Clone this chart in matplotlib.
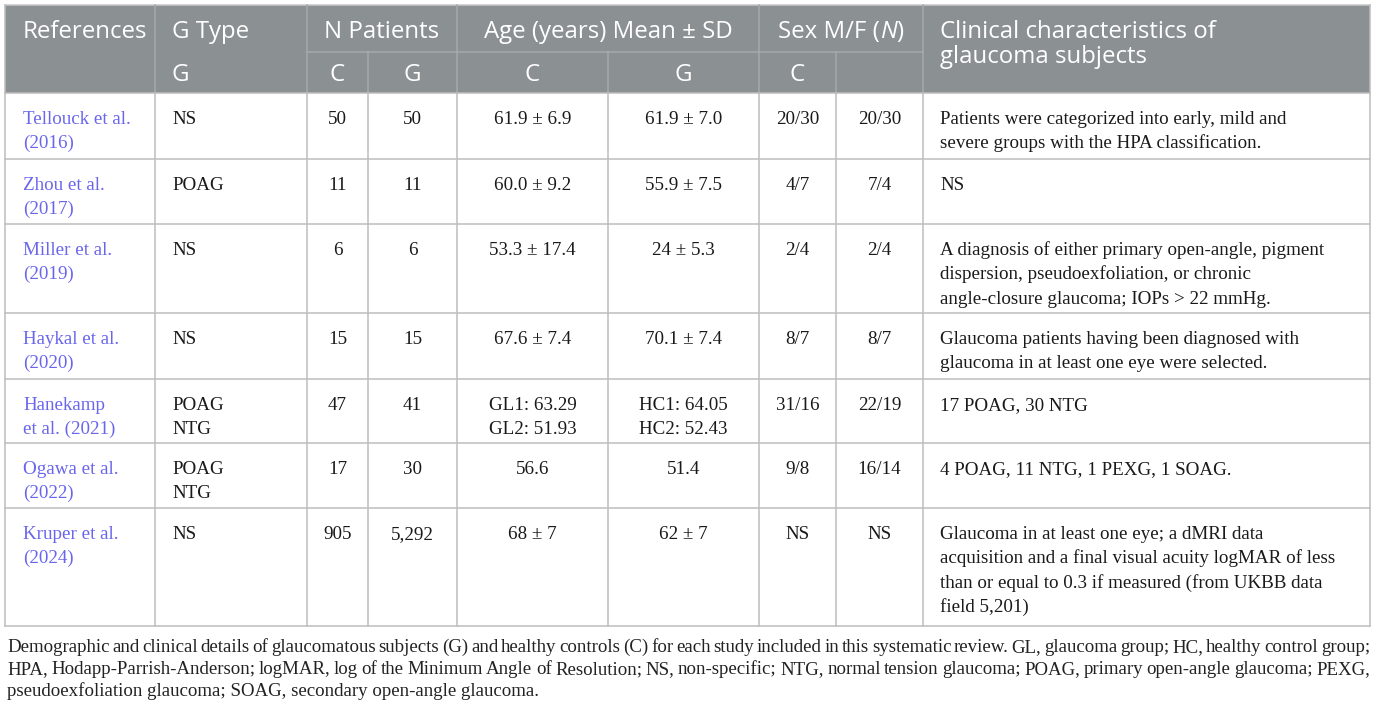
import matplotlib
matplotlib.use("Agg")
import matplotlib.pyplot as plt
from matplotlib.patches import Rectangle

# ---------------- data ----------------
header_top = ["References", "G Type", "N Patients", "Age (years) Mean \u00b1 SD", "Sex M/F (N)",
              "Clinical characteristics of\nglaucoma subjects"]
header_sub = ["", "G", "C", "G", "C", "G", "C", ""]

references = ["Tellouck et al.\n(2016)", "Zhou et al.\n(2017)", "Miller et al.\n(2019)",
              "Haykal et al.\n(2020)", "Hanekamp\net al. (2021)", "Ogawa et al.\n(2022)",
              "Kruper et al.\n(2024)"]
g_type = ["NS", "POAG", "NS", "NS", "POAG\nNTG", "POAG\nNTG", "NS"]
n_c = ["50", "11", "6", "15", "47", "17", "905"]
n_g = ["50", "11", "6", "15", "41", "30", "5,292"]
age_c = ["61.9 \u00b1 6.9", "60.0 \u00b1 9.2", "53.3 \u00b1 17.4", "67.6 \u00b1 7.4",
         "GL1: 63.29\nGL2: 51.93", "56.6", "68 \u00b1 7"]
age_g = ["61.9 \u00b1 7.0", "55.9 \u00b1 7.5", "24 \u00b1 5.3", "70.1 \u00b1 7.4",
         "HC1: 64.05\nHC2: 52.43", "51.4", "62 \u00b1 7"]
sex_c = ["20/30", "4/7", "2/4", "8/7", "31/16", "9/8", "NS"]
sex_g = ["20/30", "7/4", "2/4", "8/7", "22/19", "16/14", "NS"]
clinical = [
    "Patients were categorized into early, mild and\nsevere groups with the HPA classification.",
    "NS",
    "A diagnosis of either primary open-angle, pigment\ndispersion, pseudoexfoliation, or chronic\nangle-closure glaucoma; IOPs > 22 mmHg.",
    "Glaucoma patients having been diagnosed with\nglaucoma in at least one eye were selected.",
    "17 POAG, 30 NTG",
    "4 POAG, 11 NTG, 1 PEXG, 1 SOAG.",
    "Glaucoma in at least one eye; a dMRI data\nacquisition and a final visual acuity logMAR of less\nthan or equal to 0.3 if measured (from UKBB data\nfield 5,201)",
]
caption_lines = [
    "Demographic and clinical details of glaucomatous subjects (G) and healthy controls (C) for each study included in this systematic review. GL, glaucoma group; HC, healthy control group;",
    "HPA, Hodapp-Parrish-Anderson; logMAR, log of the Minimum Angle of Resolution; NS, non-specific; NTG, normal tension glaucoma; POAG, primary open-angle glaucoma; PEXG,",
    "pseudoexfoliation glaucoma; SOAG, secondary open-angle glaucoma.",
]

# ---------------- layout ----------------
W, H = 1375, 708
fig = plt.figure(figsize=(W / 100, H / 100), dpi=100)
ax = fig.add_axes([0, 0, 1, 1])
ax.set_xlim(0, W)
ax.set_ylim(H, 0)
ax.axis("off")

L, R = 5, 1370
T, SUB, HB = 5, 52, 93
cols = [L, 155, 307, 368, 457, 608, 759, 836, 923, R]
rows = [HB, 159, 224, 313, 379, 443, 508, 626]

HEAD_BG = "#8b9092"
HEAD_LINE = "#a6aaac"
GRID = "#bdbdbd"
LINK = "#6a66ec"
TXT = "#1a1a1a"
SANS = "Open Sans"
SERIF = "Liberation Serif"
hsize = 17.3
bsize = 13.7
csize = 13.6
lw = 1.1

ax.add_patch(Rectangle((L, T), R - L, HB - T, facecolor=HEAD_BG, edgecolor="none", zorder=1))
ax.plot([L, R], [T, T], color="#c8c8c8", lw=lw, zorder=2)

# header lines
for x in [155, 307, 457, 759, 923]:
    ax.plot([x, x], [T, HB], color=HEAD_LINE, lw=lw, zorder=2)
for x in [368, 608, 836]:
    ax.plot([x, x], [SUB, HB], color=HEAD_LINE, lw=lw, zorder=2)
ax.plot([307, 923], [SUB, SUB], color=HEAD_LINE, lw=lw, zorder=2)

# body grid
for x in cols:
    ax.plot([x, x], [HB, rows[-1]], color=GRID, lw=lw, zorder=2)
for y in rows:
    ax.plot([L, R], [y, y], color=GRID, lw=lw, zorder=2)
ax.plot([L, L], [T, HB], color=GRID, lw=lw, zorder=2)
ax.plot([R, R], [T, HB], color=GRID, lw=lw, zorder=2)

fig.canvas.draw()
renderer = fig.canvas.get_renderer()


def width_of(s, **kw):
    t = ax.text(0, 0, s, **kw)
    bb = t.get_window_extent(renderer)
    t.remove()
    return bb.width


# header texts
hk = dict(family=SANS, fontsize=hsize, color="white", va="baseline", zorder=3)
hb1 = 38
ax.text(23, hb1, header_top[0], ha="left", **hk)
ax.text(172, hb1, header_top[1], ha="left", **hk)
ax.text((307 + 457) / 2, hb1, header_top[2], ha="center", **hk)
ax.text((457 + 759) / 2, hb1, header_top[3], ha="center", **hk)
# Sex M/F (N) with italic N
sex_parts = [("Sex M/F (", "normal"), ("N", "italic"), (")", "normal")]
widths = [width_of(p, family=SANS, fontsize=hsize, style=st) for p, st in sex_parts]
x0 = (759 + 923) / 2 - sum(widths) / 2
for (p, st), w in zip(sex_parts, widths):
    ax.text(x0, hb1, p, ha="left", style=st, **hk)
    x0 += w
for i, line in enumerate(header_top[5].split("\n")):
    ax.text(940, hb1 + 25 * i, line, ha="left", **hk)

hb2 = 81
ax.text(172, hb2, header_sub[1], ha="left", **hk)
for k, lab in enumerate(header_sub[2:7]):
    cx = (cols[2 + k] + cols[3 + k]) / 2
    ax.text(cx, hb2, lab, ha="center", **hk)

# body texts
bk = dict(family=SERIF, fontsize=bsize, va="baseline", zorder=3)
LS = 24.3


def cell(x, top, s, ha, color=TXT):
    for i, line in enumerate(s.split("\n")):
        ax.text(x, top + 25 + 6 + LS * i, line, ha=ha, color=color, **bk)


for r in range(len(references)):
    top = rows[r]
    cell(23, top, references[r], "left", LINK)
    cell(172, top, g_type[r], "left")
    cell((307 + 368) / 2, top, n_c[r], "center")
    cell((368 + 457) / 2, top, n_g[r], "center")
    cell((457 + 608) / 2, top, age_c[r], "center")
    cell((608 + 759) / 2, top, age_g[r], "center")
    cell((759 + 836) / 2, top, sex_c[r], "center")
    cell((836 + 923) / 2, top, sex_g[r], "center")
    cell(940, top, clinical[r], "left")

# caption (justified)
ck = dict(family=SERIF, fontsize=csize, color="#222222", va="baseline", zorder=3)
cx0, cx1 = 7, 1370
for i, line in enumerate(caption_lines):
    yb = 652 + 22 * i
    words = line.split(" ")
    if i < len(caption_lines) - 1:
        ws = [width_of(w, **ck) for w in words]
        gap = max((cx1 - cx0 - sum(ws)) / (len(words) - 1), 2.0)
        x = cx0
        for w, wd in zip(words, ws):
            ax.text(x, yb, w, ha="left", **ck)
            x += wd + gap
    else:
        ax.text(cx0, yb, line, ha="left", **ck)

fig.savefig("out.png", dpi=100, facecolor="white")
